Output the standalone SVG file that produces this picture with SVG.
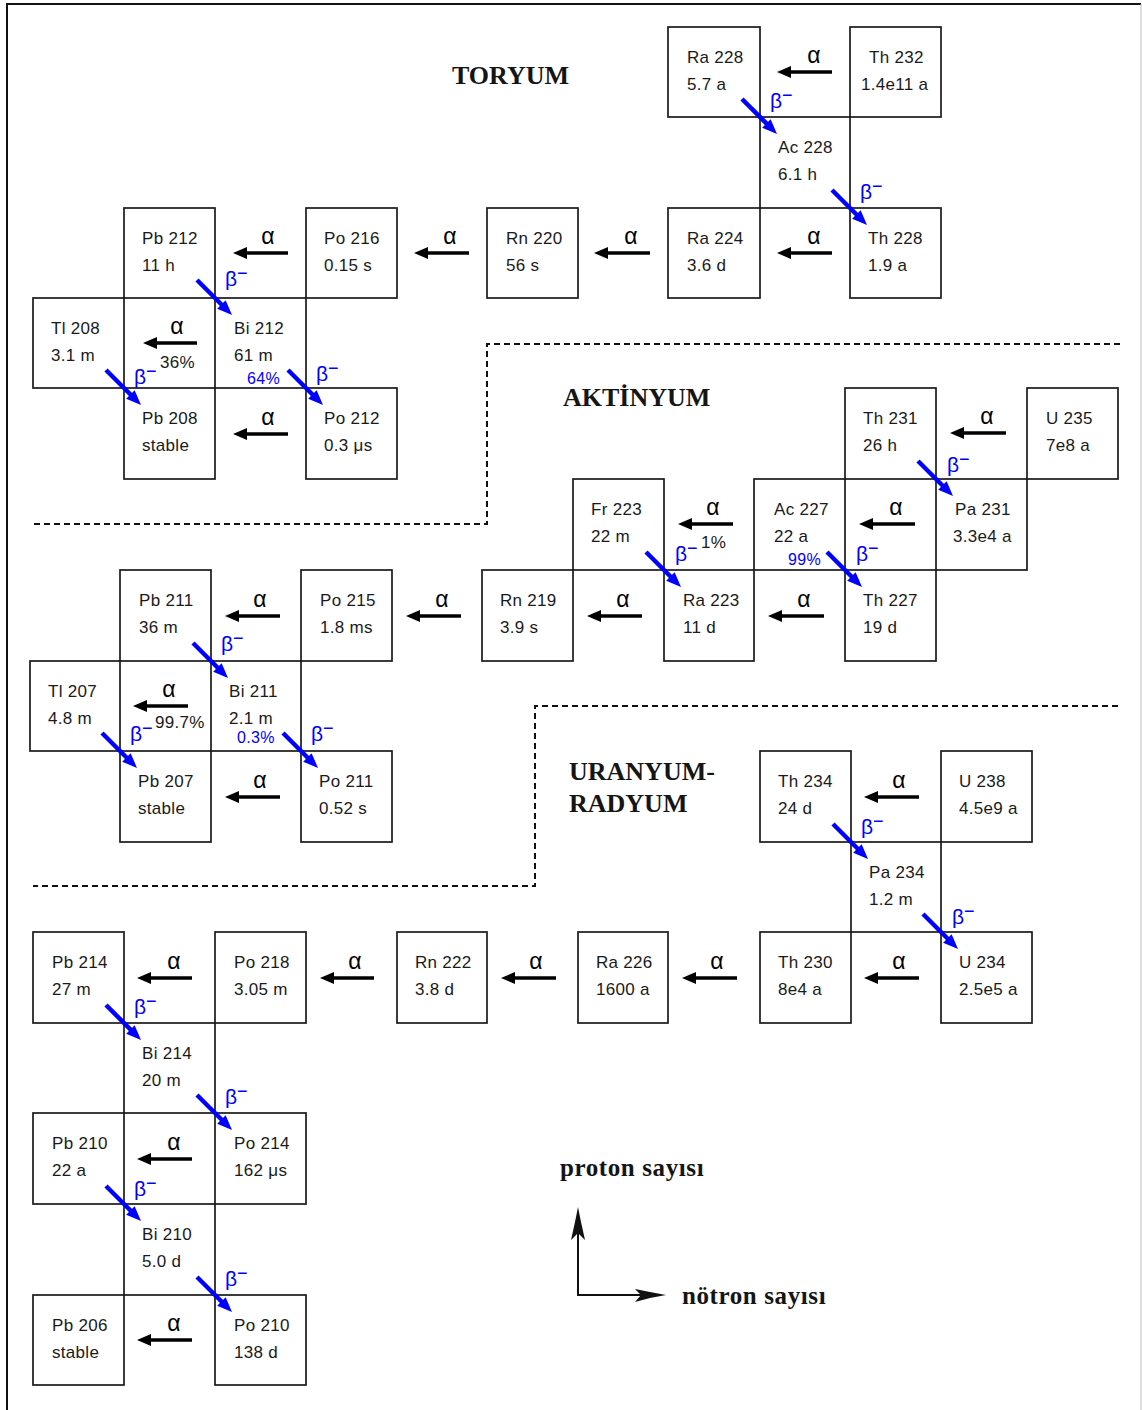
<svg xmlns="http://www.w3.org/2000/svg" width="1142" height="1410" viewBox="0 0 1142 1410">
<style>
.box{fill:none;stroke:#1a1a1a;stroke-width:1.7}
.t{font-family:"Liberation Sans",Arial,sans-serif;font-size:17px;fill:#1a1a1a;letter-spacing:0.3px}
.a{stroke:#000;stroke-width:3.3;fill:none;marker-end:url(#ah)}
.b{stroke:#0000ff;stroke-width:4.5;fill:none;marker-end:url(#bh)}
.al{font-family:"Liberation Sans",Arial,sans-serif;font-size:23px;fill:#000;text-anchor:middle}
.bl{font-family:"Liberation Sans",Arial,sans-serif;font-size:21px;fill:#0000ff}
.bl tspan{font-size:18px}
.pb{font-family:"Liberation Sans",Arial,sans-serif;font-size:16px;fill:#0000ff;letter-spacing:0.3px}
.pk{font-family:"Liberation Sans",Arial,sans-serif;font-size:17px;fill:#1a1a1a;letter-spacing:0.3px}
.h{font-family:"Liberation Serif","Times New Roman",serif;font-weight:bold;font-size:26px;fill:#151515}
.ax{font-family:"Liberation Serif","Times New Roman",serif;font-weight:bold;font-size:25px;fill:#151515;letter-spacing:0.6px}
.dash{fill:none;stroke:#111;stroke-width:2;stroke-dasharray:6 4}
</style>
<defs>
<marker id="ah" markerUnits="userSpaceOnUse" viewBox="0 0 14 12" refX="6" refY="6" markerWidth="14" markerHeight="12" orient="auto"><path d="M0,0 L14,6 L0,12 z" fill="#000"/></marker>
<marker id="bh" markerUnits="userSpaceOnUse" viewBox="0 0 15 12" refX="6.5" refY="6" markerWidth="15" markerHeight="12" orient="auto"><path d="M0,0 L15,6 L0,12 z" fill="#0000ff"/></marker>
</defs>
<rect width="1142" height="1410" fill="#fff"/>
<g id="frame">
<path d="M7,1410 V4 H1141" fill="none" stroke="#111" stroke-width="2"/>
<line x1="1141" y1="4" x2="1141" y2="1410" stroke="#bbb" stroke-width="1"/>
</g>
<g id="separators">
<path class="dash" d="M1120,344 H487 V524 H33"/>
<path class="dash" d="M1118,706 H535 V886 H33"/>
</g>
<g id="titles">
<text class="h" x="452" y="84">TORYUM</text>
<text class="h" x="563" y="406">AKTİNYUM</text>
<text class="h" x="569" y="780">URANYUM-</text>
<text class="h" x="569" y="812">RADYUM</text>
</g>
<!-- Thorium -->
<g id="Ra228"><rect class="box" x="668" y="27" width="92" height="90"/><text class="t" x="687" y="63">Ra 228</text><text class="t" x="687" y="90">5.7 a</text></g>
<g id="Th232"><rect class="box" x="850" y="27" width="91" height="90"/><text class="t" x="869" y="63">Th 232</text><text class="t" x="861" y="90">1.4e11 a</text></g>
<g id="Ac228"><rect class="box" x="760" y="117" width="90" height="91"/><text class="t" x="778" y="153">Ac 228</text><text class="t" x="778" y="180">6.1 h</text></g>
<g id="Pb212"><rect class="box" x="124" y="208" width="91" height="90"/><text class="t" x="142" y="244">Pb 212</text><text class="t" x="142" y="271">11 h</text></g>
<g id="Po216"><rect class="box" x="306" y="208" width="91" height="90"/><text class="t" x="324" y="244">Po 216</text><text class="t" x="324" y="271">0.15 s</text></g>
<g id="Rn220"><rect class="box" x="487" y="208" width="91" height="90"/><text class="t" x="506" y="244">Rn 220</text><text class="t" x="506" y="271">56 s</text></g>
<g id="Ra224"><rect class="box" x="668" y="208" width="92" height="90"/><text class="t" x="687" y="244">Ra 224</text><text class="t" x="687" y="271">3.6 d</text></g>
<g id="Th228"><rect class="box" x="850" y="208" width="91" height="90"/><text class="t" x="868" y="244">Th 228</text><text class="t" x="868" y="271">1.9 a</text></g>
<g id="Tl208"><rect class="box" x="33" y="298" width="91" height="90"/><text class="t" x="51" y="334">Tl 208</text><text class="t" x="51" y="361">3.1 m</text></g>
<g id="Bi212"><rect class="box" x="215" y="298" width="91" height="90"/><text class="t" x="234" y="334">Bi 212</text><text class="t" x="234" y="361">61 m</text></g>
<g id="Pb208"><rect class="box" x="124" y="388" width="91" height="91"/><text class="t" x="142" y="424">Pb 208</text><text class="t" x="142" y="451">stable</text></g>
<g id="Po212"><rect class="box" x="306" y="388" width="91" height="91"/><text class="t" x="324" y="424">Po 212</text><text class="t" x="324" y="451">0.3 μs</text></g>
<!-- Actinium -->
<g id="Th231"><rect class="box" x="845" y="388" width="91" height="91"/><text class="t" x="863" y="424">Th 231</text><text class="t" x="863" y="451">26 h</text></g>
<g id="U235"><rect class="box" x="1027" y="388" width="91" height="91"/><text class="t" x="1046" y="424">U 235</text><text class="t" x="1046" y="451">7e8 a</text></g>
<g id="Fr223"><rect class="box" x="573" y="479" width="91" height="91"/><text class="t" x="591" y="515">Fr 223</text><text class="t" x="591" y="542">22 m</text></g>
<g id="Ac227"><rect class="box" x="754" y="479" width="91" height="91"/><text class="t" x="774" y="515">Ac 227</text><text class="t" x="774" y="542">22 a</text></g>
<g id="Pa231"><rect class="box" x="936" y="479" width="91" height="91"/><text class="t" x="955" y="515">Pa 231</text><text class="t" x="953" y="542">3.3e4 a</text></g>
<g id="Rn219"><rect class="box" x="482" y="570" width="91" height="91"/><text class="t" x="500" y="606">Rn 219</text><text class="t" x="500" y="633">3.9 s</text></g>
<g id="Ra223"><rect class="box" x="664" y="570" width="90" height="91"/><text class="t" x="683" y="606">Ra 223</text><text class="t" x="683" y="633">11 d</text></g>
<g id="Th227"><rect class="box" x="845" y="570" width="91" height="91"/><text class="t" x="863" y="606">Th 227</text><text class="t" x="863" y="633">19 d</text></g>
<g id="Pb211"><rect class="box" x="120" y="570" width="91" height="91"/><text class="t" x="139" y="606">Pb 211</text><text class="t" x="139" y="633">36 m</text></g>
<g id="Po215"><rect class="box" x="301" y="570" width="91" height="91"/><text class="t" x="320" y="606">Po 215</text><text class="t" x="320" y="633">1.8 ms</text></g>
<g id="Tl207"><rect class="box" x="30" y="661" width="90" height="90"/><text class="t" x="48" y="697">Tl 207</text><text class="t" x="48" y="724">4.8 m</text></g>
<g id="Bi211"><rect class="box" x="211" y="661" width="90" height="90"/><text class="t" x="229" y="697">Bi 211</text><text class="t" x="229" y="724">2.1 m</text></g>
<g id="Pb207"><rect class="box" x="120" y="751" width="91" height="91"/><text class="t" x="138" y="787">Pb 207</text><text class="t" x="138" y="814">stable</text></g>
<g id="Po211"><rect class="box" x="301" y="751" width="91" height="91"/><text class="t" x="319" y="787">Po 211</text><text class="t" x="319" y="814">0.52 s</text></g>
<!-- Uranium-Radium -->
<g id="Th234"><rect class="box" x="760" y="751" width="91" height="91"/><text class="t" x="778" y="787">Th 234</text><text class="t" x="778" y="814">24 d</text></g>
<g id="U238"><rect class="box" x="941" y="751" width="91" height="91"/><text class="t" x="959" y="787">U 238</text><text class="t" x="959" y="814">4.5e9 a</text></g>
<g id="Pa234"><rect class="box" x="851" y="842" width="90" height="90"/><text class="t" x="869" y="878">Pa 234</text><text class="t" x="869" y="905">1.2 m</text></g>
<g id="Pb214"><rect class="box" x="33" y="932" width="91" height="91"/><text class="t" x="52" y="968">Pb 214</text><text class="t" x="52" y="995">27 m</text></g>
<g id="Po218"><rect class="box" x="215" y="932" width="91" height="91"/><text class="t" x="234" y="968">Po 218</text><text class="t" x="234" y="995">3.05 m</text></g>
<g id="Rn222"><rect class="box" x="397" y="932" width="90" height="91"/><text class="t" x="415" y="968">Rn 222</text><text class="t" x="415" y="995">3.8 d</text></g>
<g id="Ra226"><rect class="box" x="578" y="932" width="90" height="91"/><text class="t" x="596" y="968">Ra 226</text><text class="t" x="596" y="995">1600 a</text></g>
<g id="Th230"><rect class="box" x="760" y="932" width="91" height="91"/><text class="t" x="778" y="968">Th 230</text><text class="t" x="778" y="995">8e4 a</text></g>
<g id="U234"><rect class="box" x="941" y="932" width="91" height="91"/><text class="t" x="959" y="968">U 234</text><text class="t" x="959" y="995">2.5e5 a</text></g>
<g id="Bi214"><rect class="box" x="124" y="1023" width="91" height="90"/><text class="t" x="142" y="1059">Bi 214</text><text class="t" x="142" y="1086">20 m</text></g>
<g id="Pb210"><rect class="box" x="33" y="1113" width="91" height="91"/><text class="t" x="52" y="1149">Pb 210</text><text class="t" x="52" y="1176">22 a</text></g>
<g id="Po214"><rect class="box" x="215" y="1113" width="91" height="91"/><text class="t" x="234" y="1149">Po 214</text><text class="t" x="234" y="1176">162 μs</text></g>
<g id="Bi210"><rect class="box" x="124" y="1204" width="91" height="91"/><text class="t" x="142" y="1240">Bi 210</text><text class="t" x="142" y="1267">5.0 d</text></g>
<g id="Pb206"><rect class="box" x="33" y="1295" width="91" height="90"/><text class="t" x="52" y="1331">Pb 206</text><text class="t" x="52" y="1358">stable</text></g>
<g id="Po210"><rect class="box" x="215" y="1295" width="91" height="90"/><text class="t" x="234" y="1331">Po 210</text><text class="t" x="234" y="1358">138 d</text></g>
<g id="connectors">
<!-- alpha decays -->
<path class="a" d="M832,72 H785"/><text class="al" x="814" y="63">α</text>
<path class="a" d="M832,253 H785"/><text class="al" x="814" y="244">α</text>
<path class="a" d="M650,253 H602"/><text class="al" x="631" y="244">α</text>
<path class="a" d="M469,253 H422"/><text class="al" x="450" y="244">α</text>
<path class="a" d="M288,253 H241"/><text class="al" x="268" y="244">α</text>
<path class="a" d="M197,343 H151"/><text class="al" x="177" y="334">α</text>
<path class="a" d="M288,434 H241"/><text class="al" x="268" y="425">α</text>
<path class="a" d="M1006,433 H958"/><text class="al" x="987" y="424">α</text>
<path class="a" d="M915,524 H867"/><text class="al" x="896" y="515">α</text>
<path class="a" d="M733,524 H686"/><text class="al" x="713" y="515">α</text>
<path class="a" d="M824,616 H776"/><text class="al" x="804" y="607">α</text>
<path class="a" d="M642,616 H595"/><text class="al" x="623" y="607">α</text>
<path class="a" d="M461,616 H414"/><text class="al" x="442" y="607">α</text>
<path class="a" d="M280,616 H233"/><text class="al" x="260" y="607">α</text>
<path class="a" d="M188,706 H141"/><text class="al" x="169" y="697">α</text>
<path class="a" d="M280,797 H233"/><text class="al" x="260" y="788">α</text>
<path class="a" d="M919,797 H872"/><text class="al" x="899" y="788">α</text>
<path class="a" d="M919,978 H872"/><text class="al" x="899" y="969">α</text>
<path class="a" d="M737,978 H690"/><text class="al" x="717" y="969">α</text>
<path class="a" d="M556,978 H509"/><text class="al" x="536" y="969">α</text>
<path class="a" d="M374,978 H328"/><text class="al" x="355" y="969">α</text>
<path class="a" d="M192,978 H145"/><text class="al" x="174" y="969">α</text>
<path class="a" d="M192,1159 H145"/><text class="al" x="174" y="1150">α</text>
<path class="a" d="M192,1340 H145"/><text class="al" x="174" y="1331">α</text>
<!-- beta decays -->
<path class="b" d="M742,99 L771,128"/><text class="bl" x="770" y="108">β<tspan dy="-7">−</tspan></text>
<path class="b" d="M832,190 L861,219"/><text class="bl" x="860" y="199">β<tspan dy="-7">−</tspan></text>
<path class="b" d="M197,280 L226,309"/><text class="bl" x="225" y="286">β<tspan dy="-7">−</tspan></text>
<path class="b" d="M288,370 L317,399"/><text class="bl" x="316" y="381">β<tspan dy="-7">−</tspan></text>
<path class="b" d="M106,370 L135,399"/><text class="bl" x="134" y="384">β<tspan dy="-7">−</tspan></text>
<path class="b" d="M918,461 L947,490"/><text class="bl" x="947" y="472">β<tspan dy="-7">−</tspan></text>
<path class="b" d="M646,552 L675,581"/><text class="bl" x="675" y="561">β<tspan dy="-7">−</tspan></text>
<path class="b" d="M827,552 L856,581"/><text class="bl" x="856" y="561">β<tspan dy="-7">−</tspan></text>
<path class="b" d="M193,643 L222,672"/><text class="bl" x="221" y="651">β<tspan dy="-7">−</tspan></text>
<path class="b" d="M283,733 L312,762"/><text class="bl" x="311" y="741">β<tspan dy="-7">−</tspan></text>
<path class="b" d="M102,733 L131,762"/><text class="bl" x="130" y="741">β<tspan dy="-7">−</tspan></text>
<path class="b" d="M833,824 L862,853"/><text class="bl" x="861" y="834">β<tspan dy="-7">−</tspan></text>
<path class="b" d="M923,914 L952,943"/><text class="bl" x="952" y="924">β<tspan dy="-7">−</tspan></text>
<path class="b" d="M106,1005 L135,1034"/><text class="bl" x="134" y="1014">β<tspan dy="-7">−</tspan></text>
<path class="b" d="M197,1095 L226,1124"/><text class="bl" x="225" y="1104">β<tspan dy="-7">−</tspan></text>
<path class="b" d="M106,1186 L135,1215"/><text class="bl" x="134" y="1196">β<tspan dy="-7">−</tspan></text>
<path class="b" d="M197,1277 L226,1306"/><text class="bl" x="225" y="1286">β<tspan dy="-7">−</tspan></text>
<!-- branching ratios -->
<text class="pk" x="160" y="368">36%</text>
<text class="pb" x="247" y="384">64%</text>
<text class="pk" x="701" y="548">1%</text>
<text class="pb" x="788" y="565">99%</text>
<text class="pk" x="155" y="728">99.7%</text>
<text class="pb" x="237" y="743">0.3%</text>
</g>
<g id="axes">
<path d="M578,1296 V1222 M577,1295 H645" fill="none" stroke="#111" stroke-width="2"/>
<path d="M578,1207 L581,1222 L585,1240 L578,1233 L571,1240 L575,1222 z" fill="#111"/>
<path d="M666,1295 L650,1298 L635,1302 L641,1295 L635,1289 L650,1292 z" fill="#111"/>
<text class="ax" x="560" y="1176">proton sayısı</text>
<text class="ax" x="682" y="1304">nötron sayısı</text>
</g>
</svg>
